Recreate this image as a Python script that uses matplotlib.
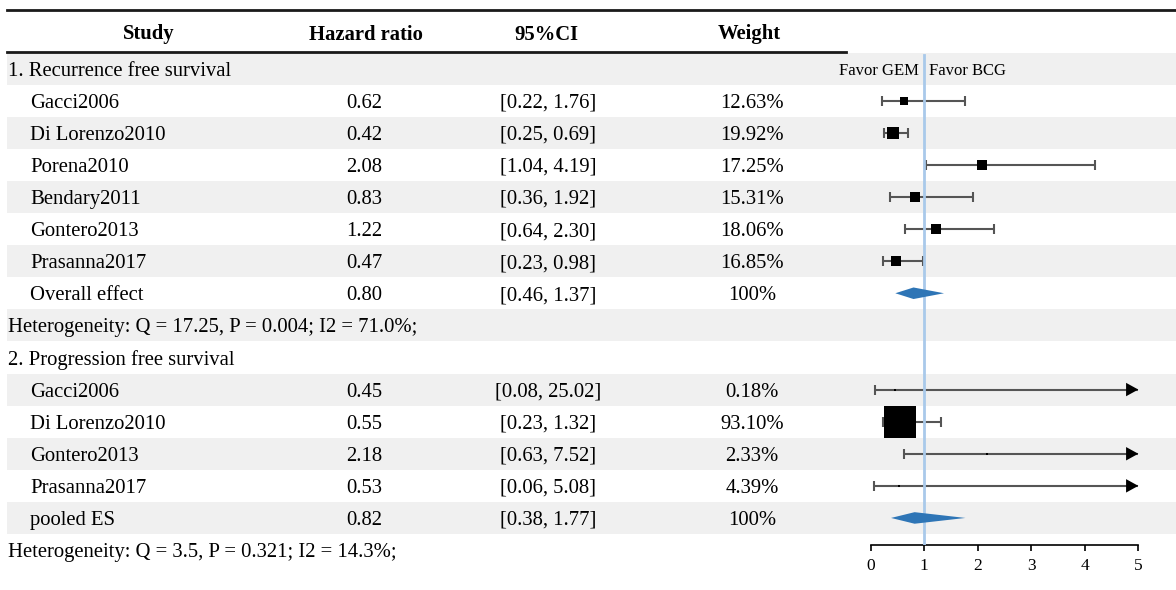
import matplotlib
matplotlib.use('Agg')
import matplotlib.pyplot as plt

# ---- data ----
studies_rfs = ['Gacci2006', 'Di Lorenzo2010', 'Porena2010', 'Bendary2011', 'Gontero2013', 'Prasanna2017']
hr_rfs = [0.62, 0.42, 2.08, 0.83, 1.22, 0.47]
lo_rfs = [0.22, 0.25, 1.04, 0.36, 0.64, 0.23]
hi_rfs = [1.76, 0.69, 4.19, 1.92, 2.30, 0.98]
w_rfs = [12.63, 19.92, 17.25, 15.31, 18.06, 16.85]
pool_rfs = [0.80, 0.46, 1.37]
het_rfs = 'Heterogeneity: Q = 17.25, P = 0.004; I2 = 71.0%;'

studies_pfs = ['Gacci2006', 'Di Lorenzo2010', 'Gontero2013', 'Prasanna2017']
hr_pfs = [0.45, 0.55, 2.18, 0.53]
lo_pfs = [0.08, 0.23, 0.63, 0.06]
hi_pfs = [25.02, 1.32, 7.52, 5.08]
w_pfs = [0.18, 93.10, 2.33, 4.39]
pool_pfs = [0.82, 0.38, 1.77]
het_pfs = 'Heterogeneity: Q = 3.5, P = 0.321; I2 = 14.3%;'

sections = ['1. Recurrence free survival', '2. Progression free survival']
pool_labels = ['Overall effect', 'pooled ES']
headers = ['Study', 'Hazard ratio', '95%CI', 'Weight']
xticks = [0, 1, 2, 3, 4, 5]

# ---- build the row list ----
rows = []
groups = [(studies_rfs, hr_rfs, lo_rfs, hi_rfs, w_rfs, pool_rfs, het_rfs),
          (studies_pfs, hr_pfs, lo_pfs, hi_pfs, w_pfs, pool_pfs, het_pfs)]
for g, (names, hr, lo, hi, w, pool, het) in enumerate(groups):
    rows.append(('section', sections[g]))
    for k in range(len(names)):
        rows.append(('study', names[k], hr[k], lo[k], hi[k], w[k]))
    rows.append(('pool', pool_labels[g], pool[0], pool[1], pool[2]))
    rows.append(('het', het))

plt.rcParams['font.family'] = ['Liberation Serif', 'DejaVu Serif']

W, H = 1176, 590
fig = plt.figure(figsize=(W / 100, H / 100), dpi=100)

TOP = 52.5      # px, top of first row
ROW_H = 32.1    # px, row height
def row_y(i):
    return TOP + (i + 0.5) * ROW_H

# table axes in pixel coordinates
ax = fig.add_axes([0, 0, 1, 1])
ax.set_xlim(0, W)
ax.set_ylim(H, 0)
ax.axis('off')

FS = 14.9
VA = 'center_baseline'
col_x = {'study': 30, 'hr': 364, 'ci': 548, 'w': 752}

for i, r in enumerate(rows):
    y = row_y(i)
    if i % 2 == 0:
        ax.fill_between([7, W], y - ROW_H / 2, y + ROW_H / 2, color='#f0f0f0', lw=0, zorder=0)
    if r[0] in ('section', 'het'):
        ax.text(8, y, r[1], fontsize=FS, va=VA, ha='left')
    elif r[0] == 'study':
        _, name, hr, lo, hi, w = r
        ax.text(col_x['study'], y, name, fontsize=FS, va=VA, ha='left')
        ax.text(col_x['hr'], y, f'{hr:.2f}', fontsize=FS, va=VA, ha='center')
        ax.text(col_x['ci'], y, f'[{lo:.2f}, {hi:.2f}]', fontsize=FS, va=VA, ha='center')
        ax.text(col_x['w'], y, f'{w:.2f}%', fontsize=FS, va=VA, ha='center')
    else:
        _, name, hr, lo, hi = r
        ax.text(col_x['study'], y, name, fontsize=FS, va=VA, ha='left')
        ax.text(col_x['hr'], y, f'{hr:.2f}', fontsize=FS, va=VA, ha='center')
        ax.text(col_x['ci'], y, f'[{lo:.2f}, {hi:.2f}]', fontsize=FS, va=VA, ha='center')
        ax.text(col_x['w'], y, '100%', fontsize=FS, va=VA, ha='center')

# header
head_x = [149, 366, 546, 749]
for hx, h in zip(head_x, headers):
    ax.text(hx, 32, h, fontsize=FS, fontweight='bold', va=VA, ha='center')
ax.plot([7, W], [10, 10], color='#1a1a1a', lw=2)
ax.plot([7, 846], [52, 52], color='#1a1a1a', lw=2)

# forest axes
x0_px, x5_px, axis_px = 870.7, 1138.3, 545
ax2 = fig.add_axes([x0_px / W, (H - axis_px) / H, (x5_px - x0_px) / W, (axis_px - TOP) / H])
ax2.set_xlim(0, 5)
ybot = (axis_px - TOP) / ROW_H - 0.5
ax2.set_ylim(ybot, -0.5)
ax2.patch.set_alpha(0)
for s in ['top', 'right', 'left']:
    ax2.spines[s].set_visible(False)
ax2.spines['bottom'].set_linewidth(1.2)
ax2.set_yticks([])
ax2.set_xticks(xticks)
ax2.tick_params(axis='x', length=4, width=1.2, pad=5, labelsize=12.5)

XMAX = 5
line_c = '#555555'
px_per_pt = 100 / 72
for i, r in enumerate(rows):
    if r[0] == 'study':
        _, name, hr, lo, hi, w = r
        right = min(hi, XMAX)
        ax2.plot([lo, right], [i, i], color=line_c, lw=1.5, zorder=2, solid_capstyle='butt')
        ax2.plot([lo], [i], marker='|', ms=6.5, mew=1.5, color=line_c, zorder=2)
        if hi > XMAX:
            ax2.annotate('', xy=(XMAX, i), xytext=(XMAX - 0.3, i),
                         arrowprops=dict(arrowstyle='-|>,head_length=0.4,head_width=0.22',
                                         mutation_scale=22, color='black', lw=0,
                                         shrinkA=0, shrinkB=0), zorder=4)
        else:
            ax2.plot([hi], [i], marker='|', ms=6.5, mew=1.5, color=line_c, zorder=2)
        side_px = max(min(0.6 * w, 32), 1.8)
        ax2.scatter([hr], [i], marker='s', s=(side_px / px_per_pt) ** 2,
                    color='black', lw=0, zorder=5)
    elif r[0] == 'pool':
        _, name, hr, lo, hi = r
        ax2.fill([lo, hr, hi, hr], [i, i - 0.18, i, i + 0.18], color='#2e75b6', lw=0, zorder=5)

ax2.axvline(1, ymin=0, ymax=(axis_px - 55) / (axis_px - TOP), color='#a9c9ea', lw=2, zorder=3)

# favor labels
ax.text(919, row_y(0), 'Favor GEM', fontsize=12, ha='right', va=VA)
ax.text(929, row_y(0), 'Favor BCG', fontsize=12, ha='left', va=VA)

fig.savefig('out.png', dpi=100)
